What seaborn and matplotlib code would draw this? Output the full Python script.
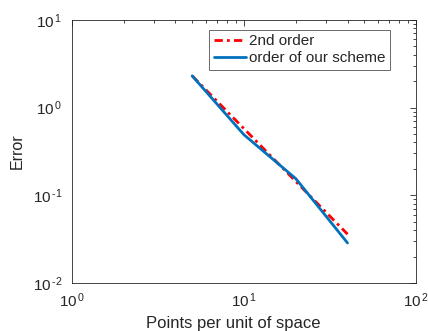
import numpy as np
import pandas as pd
import matplotlib
matplotlib.use("Agg")
import matplotlib.pyplot as plt
from matplotlib.ticker import FuncFormatter
import seaborn as sns

# data
points = [5, 10, 20, 40]
err_2nd = [2.3, 0.575, 0.144, 0.036]
err_scheme = [2.3, 0.49, 0.155, 0.0286]

df = pd.DataFrame({
    'points': points * 2,
    'error': err_2nd + err_scheme,
    'series': ['2nd order'] * 4 + ['order of our scheme'] * 4,
})

sns.set_style("white")
plt.rcParams['font.family'] = ['Liberation Sans', 'DejaVu Sans']
plt.rcParams['mathtext.fontset'] = 'custom'
plt.rcParams['mathtext.rm'] = 'Liberation Sans'
plt.rcParams['mathtext.it'] = 'Liberation Sans'
plt.rcParams['mathtext.default'] = 'rm'

fig = plt.figure(figsize=(4.28, 3.31), dpi=100)
ax = fig.add_axes([0.168, 0.145, 0.804, 0.795])

sns.lineplot(data=df, x='points', y='error', hue='series', style='series',
             palette={'2nd order': '#ff0000', 'order of our scheme': '#0072bd'},
             dashes={'2nd order': (3, 1.5, 1, 1.5), 'order of our scheme': ''},
             linewidth=2, ax=ax, sort=False)

ax.set_xscale('log')
ax.set_yscale('log')
ax.set_xlim(1, 100)
ax.set_ylim(0.01, 10)


def pow_label(v, pos):
    e = int(round(np.log10(v)))
    s = str(e).replace('-', '\u2010')
    return r'$10^{\,' + s + '}$'


ax.xaxis.set_major_formatter(FuncFormatter(pow_label))
ax.yaxis.set_major_formatter(FuncFormatter(pow_label))

ax.set_xlabel('Points per unit of space', fontsize=12)
ax.set_ylabel('Error', fontsize=11.5)
ax.xaxis.set_label_coords(0.468, -0.124)
ax.yaxis.set_label_coords(-0.138, 0.5)

ax.tick_params(which='both', direction='in', top=True, right=True,
               colors='#262626', labelcolor='#262626')
ax.tick_params(which='major', length=4, width=0.6, labelsize=11)
ax.tick_params(axis='x', which='major', pad=6)
ax.tick_params(axis='y', which='major', pad=7)
ax.tick_params(which='minor', length=2, width=0.6)
for s in ax.spines.values():
    s.set_color('#262626')
    s.set_linewidth(0.6)

leg = ax.legend(loc='upper right', bbox_to_anchor=(0.924, 0.962), fontsize=11,
                frameon=True, fancybox=False, edgecolor='#262626',
                handlelength=2.1, handletextpad=0.2, borderpad=0.3,
                labelspacing=0.2, borderaxespad=0)
leg.get_frame().set_linewidth(0.6)
leg.set_title(None)

fig.savefig('out.png', dpi=100)
